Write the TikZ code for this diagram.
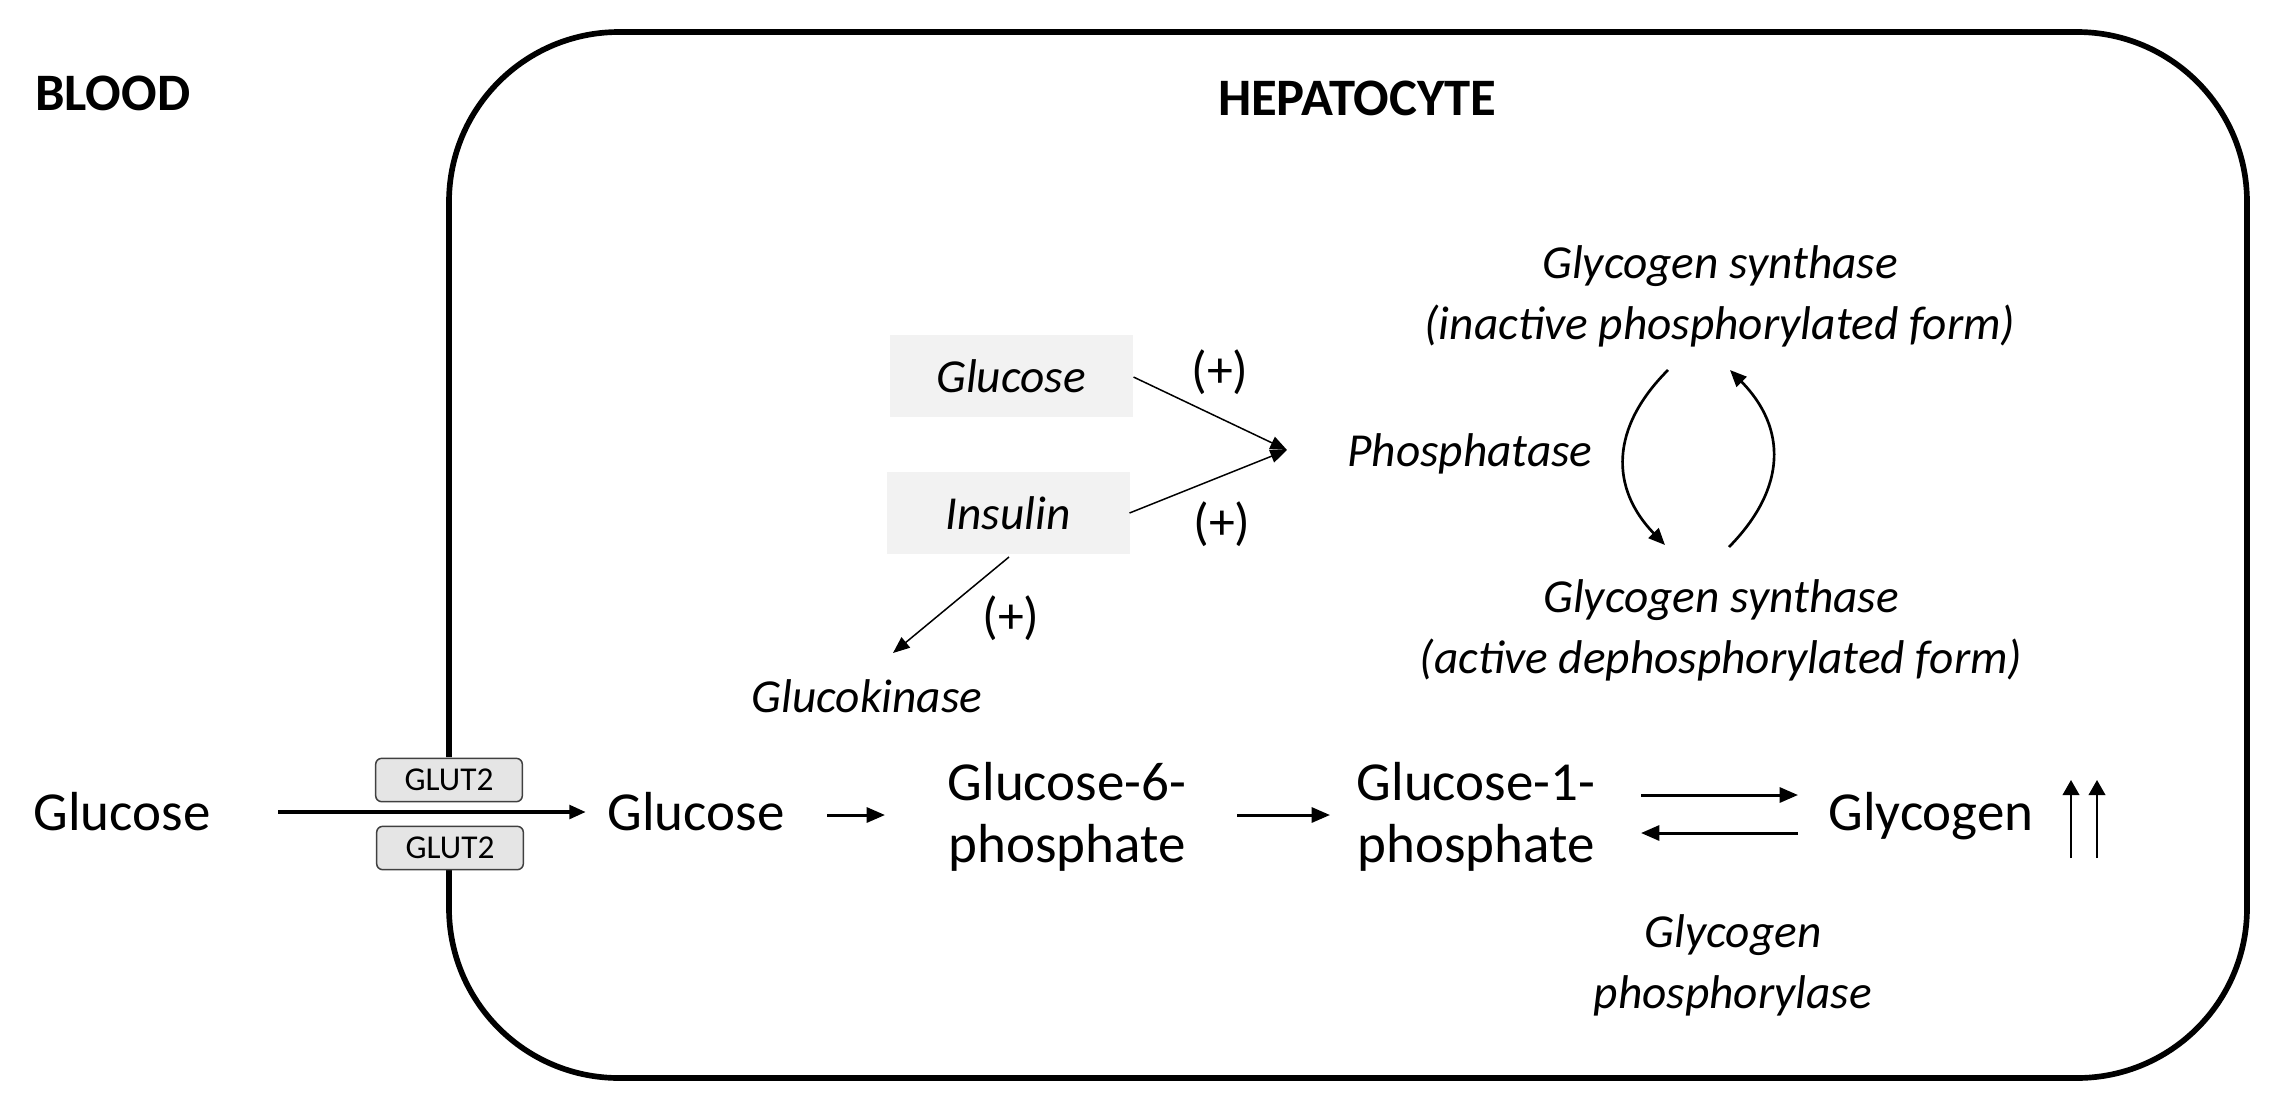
\documentclass[tikz,border=0pt]{standalone}
\usepackage{fontspec}
\setmainfont{Carlito}
\usetikzlibrary{arrows.meta,calc}
\begin{document}
\begin{tikzpicture}[x=0.3pt,y=-0.3pt,
  every node/.style={inner sep=0pt, outer sep=0pt},
  lbl/.style={font=\fontsize{16.5}{18.6}\selectfont, align=center},
  ital/.style={font=\fontsize{14.2}{18.3}\selectfont\itshape, align=center},
  plus/.style={font=\fontsize{15.5}{18}\selectfont},
  ttl/.style={font=\fontsize{15.8}{19}\selectfont\bfseries},
  greybox/.style={fill=black!5, minimum width=72.9pt, minimum height=24.6pt},
  glut/.style={draw=black!75, line width=0.45pt, rounded corners=1.8pt, fill=black!10,
    minimum width=44pt, minimum height=13pt, font=\fontsize{10}{11}\selectfont},
  transp/.style={-{Triangle[length=5pt,width=4pt]}, line width=1.4pt},
  arr/.style={-{Triangle[length=5.5pt,width=4.5pt]}, line width=0.9pt},
  reg/.style={-{Triangle[length=5pt,width=4pt]}, line width=0.45pt},
  cyc/.style={-{Triangle[length=5pt,width=4.2pt]}, line width=0.8pt},
  uparr/.style={-{Triangle[length=4.5pt,width=5pt]}, line width=0.5pt},
  cell/.style={line width=1.7pt, rounded corners=51pt}
]
\useasboundingbox (0,0) rectangle (2274,1111);

% cell membrane
\draw[cell] (449,757) -- (449,32) -- (2247,32) -- (2247,1078) -- (449,1078) -- (449,869);

% titles
\node[ttl, anchor=base west] (blood) at (35,110) {BLOOD};
\node[ttl, anchor=base west] (hep) at (1218,115) {HEPATOCYTE};

% regulators
\node[greybox, ital] (gbox) at (1011,376) {Glucose};
\node[greybox, ital] (ibox) at (1008,513) {Insulin};
\coordinate (conv) at (1287,450);
\draw[reg] ($(gbox.east)+(1,1)$) -- (conv);
\draw[reg] (ibox.east) -- (conv);
\node[plus] (p1) at (1220,372) {(+)};
\node[plus] (p2) at (1222,524) {(+)};
\node[ital, anchor=base] (gk) at (867,712) {Glucokinase};
\draw[reg] ($(ibox.south)+(1,3)$) -- ($(gk.base)+(26,-59)$);
\node[plus] (p3) at (1011,618) {(+)};
\node[ital] (phos) at (1470,454) {Phosphatase};

% glycogen synthase cycle
\node[ital] (gsi) at (1720,296) {Glycogen synthase\\(inactive phosphorylated form)};
\node[ital] (gsa) at (1721,630) {Glycogen synthase\\(active dephosphorylated form)};
\coordinate (c1) at (1668,370);
\coordinate (c2) at (1665,545);
\coordinate (c3) at (1729,547);
\coordinate (c4) at (1730,370);
\draw[cyc] (c1) .. controls (1610,428) and (1610,488) .. (c2);
\draw[cyc] (c3) .. controls (1787,488) and (1787,428) .. (c4);

% main pathway
\node[lbl, anchor=base] (gout) at (122,830) {Glucose};
\node[lbl, anchor=base] (gin) at (696,830) {Glucose};
\node[lbl] (g6p) at (1067,817) {Glucose-6-\\phosphate};
\node[lbl] (g1p) at (1476,817) {Glucose-1-\\phosphate};
\node[lbl, anchor=base] (glyc) at (1931,830) {Glycogen};
\node[ital] (gp) at (1733,965) {Glycogen\\phosphorylase};

\node[glut] (glut1) at (449,780) {GLUT2};
\node[glut] (glut2) at (450,848) {GLUT2};

\draw[transp] ($(gout.base)+(156,-18)$) -- ($(gin.base)+(-110,-18)$);
\draw[arr] ($(gin.base)+(131,-15)$) -- ($(g6p)+(-182,-2)$);
\draw[arr] ($(g6p)+(170,-2)$) -- ($(g1p)+(-146,-2)$);
\draw[arr] ($(g1p)+(165,-22)$) -- ($(glyc.base)+(-133,-35)$);
\draw[arr] ($(glyc.base)+(-133,3)$) -- ($(g1p)+(165,16)$);
\draw[uparr] ($(glyc.base)+(140,28)$) -- ($(glyc.base)+(140,-50)$);
\draw[uparr] ($(glyc.base)+(166,28)$) -- ($(glyc.base)+(166,-50)$);
\end{tikzpicture}
\end{document}
